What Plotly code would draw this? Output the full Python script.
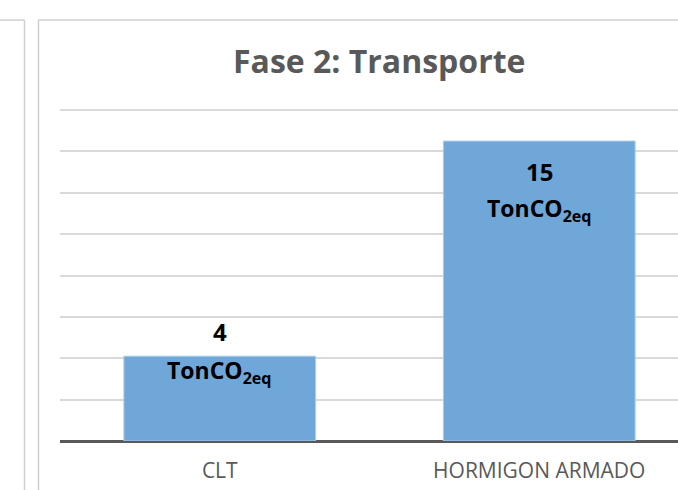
import plotly.graph_objects as go

categories = ["CLT", "HORMIGON ARMADO"]
values = [4.1, 14.5]
value_labels = ["4", "15"]
unit_label = "TonCO<sub>2eq</sub>"
title_text = "Fase 2: Transporte"
y_ticks = [0, 2, 4, 6, 8, 10, 12, 14, 16]

W, H = 678, 490
Y_TOP = 16.1
# plot area: value 0 at y=441px, value 16 at y=110px
PX_PER_UNIT = (441 - 110) / 16
PL, PR, PB = 60, 0, H - 441
PT = 441 - Y_TOP * PX_PER_UNIT

def px_to_paper_x(px):
    return (px - PL) / (W - PL - PR)

def px_to_paper_y(py):
    return (H - PB - py) / (H - PT - PB)

FONT = "Open Sans"

fig = go.Figure()
fig.add_trace(go.Bar(
    x=categories, y=values,
    marker=dict(color="#6fa7d9", line=dict(color="#a9cbea", width=1)),
    width=0.6,
    hoverinfo="x+y",
))

num_font = dict(size=24, color="#000000", family=FONT)
unit_font = dict(size=23, color="#000000", family=FONT)
num_shift = [25, -30]
unit_shift = [-15, -68]
for c, v, lab, ns, us in zip(categories, values, value_labels, num_shift, unit_shift):
    fig.add_annotation(x=c, y=v, yanchor="middle", yshift=ns, text=f"<b>{lab}</b>",
                       showarrow=False, font=num_font, align="center")
    fig.add_annotation(x=c, y=v, yanchor="middle", yshift=us, text=f"<b>{unit_label}</b>",
                       showarrow=False, font=unit_font, align="center")

fig.add_annotation(xref="paper", yref="paper", x=px_to_paper_x(379), y=px_to_paper_y(60),
                   xanchor="center", yanchor="middle", text="<b>" + title_text + "</b>",
                   showarrow=False, font=dict(size=32, color="#595959", family=FONT))

frame = dict(color="#d0d0d0", width=1.5)
shapes = [
    dict(type="line", xref="paper", yref="paper", x0=px_to_paper_x(38.5), x1=px_to_paper_x(38.5),
         y0=px_to_paper_y(20), y1=px_to_paper_y(500), line=frame),
    dict(type="line", xref="paper", yref="paper", x0=px_to_paper_x(38.5), x1=px_to_paper_x(700),
         y0=px_to_paper_y(20), y1=px_to_paper_y(20), line=frame),
    dict(type="line", xref="paper", yref="paper", x0=px_to_paper_x(24.5), x1=px_to_paper_x(24.5),
         y0=px_to_paper_y(20), y1=px_to_paper_y(500), line=frame),
    dict(type="line", xref="paper", yref="paper", x0=px_to_paper_x(-5), x1=px_to_paper_x(24.5),
         y0=px_to_paper_y(20), y1=px_to_paper_y(20), line=frame),
]
fig.update_layout(shapes=shapes)

fig.update_layout(
    width=W, height=H,
    margin=dict(l=PL, r=PR, t=PT, b=PB, pad=0),
    paper_bgcolor="#ffffff", plot_bgcolor="#ffffff",
    showlegend=False,
    font=dict(family=FONT, color="#595959"),
    xaxis=dict(range=[-0.5, -0.5 + (W - PL) / 319.5], showgrid=False,
               tickfont=dict(size=21, color="#595959"),
               showline=False, ticks="", ticklabelstandoff=15),
    yaxis=dict(range=[0, Y_TOP], tickvals=y_ticks, showgrid=True,
               gridcolor="#d9d9d9", gridwidth=1.5,
               showticklabels=False, zeroline=True, zerolinecolor="#595959", zerolinewidth=2.5,
               showline=False, ticks=""),
)

fig.write_html(
    "out.html",
    config={"displayModeBar": False},
    post_script="document.body.style.margin='0';document.body.style.overflow='hidden';"
                "document.documentElement.style.overflow='hidden';",
)
